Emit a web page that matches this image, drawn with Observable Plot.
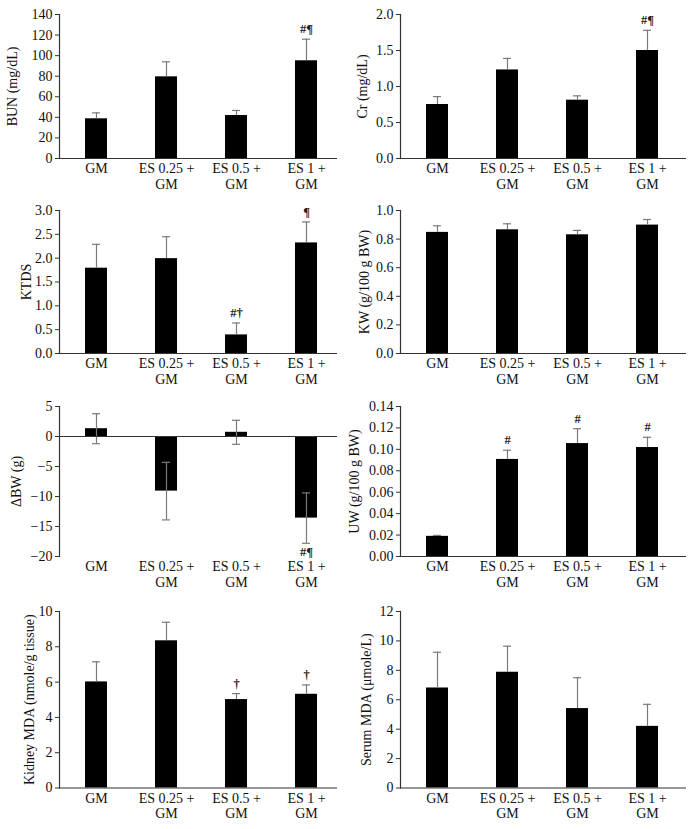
<!DOCTYPE html>
<html><head><meta charset="utf-8">
<script src="https://cdn.jsdelivr.net/npm/d3@7"></script>
<script src="https://cdn.jsdelivr.net/npm/@observablehq/plot@0.6"></script>
<style>
body{margin:0;background:#fff;}
#wrap{position:relative;width:696px;height:829px;overflow:hidden;background:#fff;}
.panel{position:absolute;}
</style></head><body><div id="wrap"></div>
<script>
// ---- data ----
const groups = ["GM", "ES 0.25 + GM", "ES 0.5 + GM", "ES 1 + GM"];
const groupTickLabels = ["GM", "ES 0.25 +\nGM", "ES 0.5 +\nGM", "ES 1 +\nGM"];

const bun = [38.6, 79.4, 41.8, 95.0];
const bunSE = [5.8, 14.6, 4.9, 21.0];
const bunNotes = ["", "", "", "#¶"];
const bunTicks = [0, 20, 40, 60, 80, 100, 120, 140];

const cr = [0.75, 1.23, 0.81, 1.50];
const crSE = [0.11, 0.16, 0.06, 0.28];
const crNotes = ["", "", "", "#¶"];
const crTicks = [0, 0.5, 1.0, 1.5, 2.0];

const ktds = [1.79, 1.99, 0.39, 2.32];
const ktdsSE = [0.50, 0.46, 0.25, 0.44];
const ktdsNotes = ["", "", "#†", "¶"];
const ktdsTicks = [0, 0.5, 1.0, 1.5, 2.0, 2.5, 3.0];

const kw = [0.847, 0.865, 0.830, 0.898];
const kwSE = [0.046, 0.042, 0.031, 0.039];
const kwNotes = ["", "", "", ""];
const kwTicks = [0, 0.2, 0.4, 0.6, 0.8, 1.0];

const dbw = [1.3, -9.1, 0.7, -13.6];
const dbwSE = [2.5, 4.8, 2.0, 4.2];
const dbwNotes = ["", "", "", "#¶"];
const dbwTicks = [-20, -15, -10, -5, 0, 5];

const uw = [0.0188, 0.0906, 0.1054, 0.1017];
const uwSE = [0.0009, 0.0086, 0.0139, 0.0096];
const uwNotes = ["", "#", "#", "#"];
const uwTicks = [0, 0.02, 0.04, 0.06, 0.08, 0.10, 0.12, 0.14];

const kidneyMDA = [6.01, 8.34, 5.01, 5.31];
const kidneyMDASE = [1.14, 1.05, 0.34, 0.53];
const kidneyMDANotes = ["", "", "†", "†"];
const kidneyMDATicks = [0, 2, 4, 6, 8, 10];

const serumMDA = [6.80, 7.87, 5.40, 4.19];
const serumMDASE = [2.43, 1.77, 2.10, 1.50];
const serumMDANotes = ["", "", "", ""];
const serumMDATicks = [0, 2, 4, 6, 8, 10, 12];

// ---- panel configuration ----
const panels = [
  {values: bun, se: bunSE, notes: bunNotes, ticks: bunTicks, label: "BUN (mg/dL)", fmt: "d", col: 0, row: 0, lo: 52, twoSided: false},
  {values: cr, se: crSE, notes: crNotes, ticks: crTicks, label: "Cr (mg/dL)", fmt: ".1f", col: 1, row: 0, lo: 43, twoSided: false},
  {values: ktds, se: ktdsSE, notes: ktdsNotes, ticks: ktdsTicks, label: "KTDS", fmt: ".1f", col: 0, row: 1, lo: 38, twoSided: false},
  {values: kw, se: kwSE, notes: kwNotes, ticks: kwTicks, label: "KW (g/100 g BW)", fmt: ".1f", col: 1, row: 1, lo: 41, twoSided: false},
  {values: dbw, se: dbwSE, notes: dbwNotes, ticks: dbwTicks, label: "ΔBW (g)", fmt: "d", col: 0, row: 2, lo: 48, twoSided: true},
  {values: uw, se: uwSE, notes: uwNotes, ticks: uwTicks, label: "UW (g/100 g BW)", fmt: ".2f", col: 1, row: 2, lo: 51, twoSided: false},
  {values: kidneyMDA, se: kidneyMDASE, notes: kidneyMDANotes, ticks: kidneyMDATicks, label: "Kidney MDA (nmole/g tissue)", fmt: "d", col: 0, row: 3, lo: 35, twoSided: false},
  {values: serumMDA, se: serumMDASE, notes: serumMDANotes, ticks: serumMDATicks, label: "Serum MDA (μmole/L)", fmt: "d", col: 1, row: 3, lo: 39, twoSided: false}
];

const rows = [
  {top: 0, h: 200, mt: 14, mb: 42},
  {top: 200, h: 200, mt: 10, mb: 47},
  {top: 400, h: 200, mt: 6, mb: 44},
  {top: 600, h: 229, mt: 11, mb: 41.5}
];

const FONT = "'Liberation Serif', 'Times New Roman', serif";
const ERR = "#7a7a7a";
const AXIS = "#333";

const wrap = document.getElementById("wrap");

for (const p of panels) {
  const r = rows[p.row];
  const ml = p.col === 0 ? 59 : 52;
  const mr = p.col === 0 ? 11 : 10;
  const W = 348;
  const data = groups.map((g, i) => ({g, v: p.values[i], se: p.se[i], note: p.notes[i]}));
  const hi = d => d.v + d.se;
  const lo = d => p.twoSided ? d.v - d.se : d.v;
  const fmt = d3.format(p.fmt);
  const marks = [
    Plot.barY(data, {x: "g", y: "v", fill: "#000"}),
    Plot.ruleX(data, {x: "g", y1: lo, y2: hi, stroke: ERR, strokeWidth: 1.2}),
    Plot.tickY(data, {x: "g", y: hi, stroke: ERR, strokeWidth: 1.2, insetLeft: 7, insetRight: 7})
  ];
  if (p.twoSided) {
    marks.push(Plot.tickY(data, {x: "g", y: d => d.v - d.se, stroke: ERR, strokeWidth: 1.2, insetLeft: 7, insetRight: 7}));
  }
  marks.push(
    Plot.ruleY([0], {stroke: AXIS, strokeWidth: 1.2}),
    Plot.frame({anchor: "left", stroke: AXIS, strokeWidth: 1.2}),
    Plot.text(data.filter(d => d.note && d.v >= 0), {x: "g", y: hi, text: "note", lineAnchor: "bottom", dy: -6, fontSize: 12.5, fill: "#222", fontWeight: "bold"}),
    Plot.text(data.filter(d => d.note && d.v < 0), {x: "g", y: d => d.v - d.se, text: "note", lineAnchor: "top", dy: 4, fontSize: 12.5, fill: "#222", fontWeight: "bold"}),
    Plot.axisY({ticks: p.ticks, tickFormat: fmt, tickSize: 4, tickPadding: 3, stroke: AXIS, fontSize: 14,
      label: p.label, labelAnchor: "center", labelArrow: "none", labelOffset: p.lo, fill: "#111"}),
    Plot.axisX({tickSize: 0, tickPadding: 4, fontSize: 14, tickFormat: g => groupTickLabels[groups.indexOf(g)], lineHeight: 1.1, label: null, fill: "#111"})
  );
  const chart = Plot.plot({
    width: W,
    height: r.h,
    marginLeft: ml,
    marginRight: mr,
    marginTop: r.mt,
    marginBottom: r.mb,
    style: {fontFamily: FONT, fontSize: "15px", background: "transparent", color: "#111"},
    x: {type: "band", domain: groups, range: [ml + 2, ml + 282], paddingInner: 0.69, paddingOuter: 0.345},
    y: {domain: [p.ticks[0], p.ticks[p.ticks.length - 1]]},
    marks
  });
  const div = document.createElement("div");
  div.className = "panel";
  div.style.left = (p.col * 348) + "px";
  div.style.top = r.top + "px";
  div.appendChild(chart);
  wrap.appendChild(div);
}
</script>
</body></html>
